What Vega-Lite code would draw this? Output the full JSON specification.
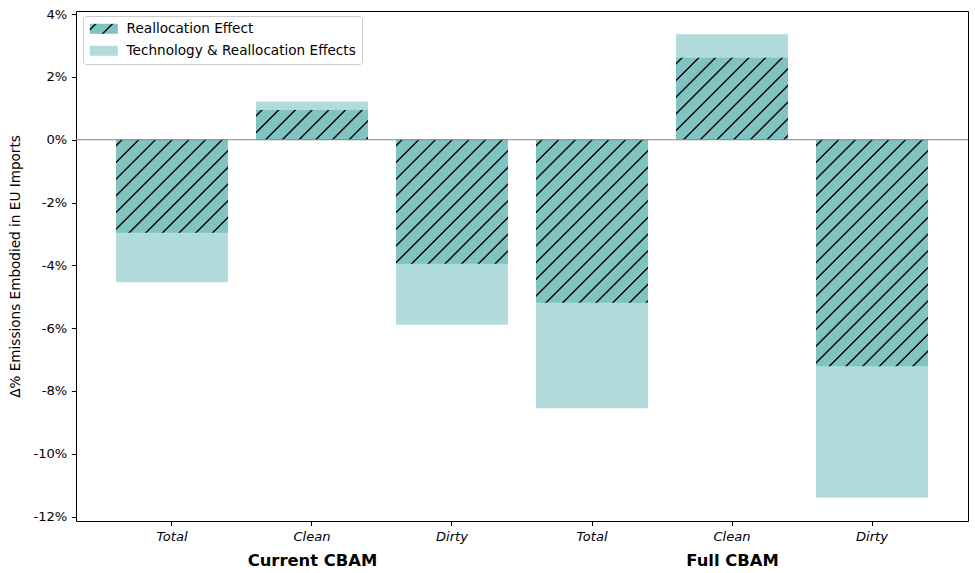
{
  "$schema": "https://vega.github.io/schema/vega-lite/v6.json",
  "width": 892,
  "height": 510,
  "autosize": "none",
  "padding": {"left": 76, "top": 11, "right": 7, "bottom": 52},
  "background": "white",
  "config": {"font": "DejaVu Sans", "view": {"stroke": "black", "strokeWidth": 1}},
  "params": [
    {"name": "hatch", "value": [
      {"offset": 0, "color": "#7fc4c1"},
      {"offset": 0.01257, "color": "#7fc4c1"}, {"offset": 0.01543, "color": "#141414"}, {"offset": 0.01886, "color": "#141414"}, {"offset": 0.02171, "color": "#7fc4c1"},
      {"offset": 0.06029, "color": "#7fc4c1"}, {"offset": 0.06314, "color": "#141414"}, {"offset": 0.06657, "color": "#141414"}, {"offset": 0.06943, "color": "#7fc4c1"},
      {"offset": 0.108, "color": "#7fc4c1"}, {"offset": 0.11086, "color": "#141414"}, {"offset": 0.11429, "color": "#141414"}, {"offset": 0.11714, "color": "#7fc4c1"},
      {"offset": 0.15571, "color": "#7fc4c1"}, {"offset": 0.15857, "color": "#141414"}, {"offset": 0.162, "color": "#141414"}, {"offset": 0.16486, "color": "#7fc4c1"},
      {"offset": 0.20343, "color": "#7fc4c1"}, {"offset": 0.20629, "color": "#141414"}, {"offset": 0.20971, "color": "#141414"}, {"offset": 0.21257, "color": "#7fc4c1"},
      {"offset": 0.25114, "color": "#7fc4c1"}, {"offset": 0.254, "color": "#141414"}, {"offset": 0.25743, "color": "#141414"}, {"offset": 0.26029, "color": "#7fc4c1"},
      {"offset": 0.29886, "color": "#7fc4c1"}, {"offset": 0.30171, "color": "#141414"}, {"offset": 0.30514, "color": "#141414"}, {"offset": 0.308, "color": "#7fc4c1"},
      {"offset": 0.34657, "color": "#7fc4c1"}, {"offset": 0.34943, "color": "#141414"}, {"offset": 0.35286, "color": "#141414"}, {"offset": 0.35571, "color": "#7fc4c1"},
      {"offset": 0.39429, "color": "#7fc4c1"}, {"offset": 0.39714, "color": "#141414"}, {"offset": 0.40057, "color": "#141414"}, {"offset": 0.40343, "color": "#7fc4c1"},
      {"offset": 0.442, "color": "#7fc4c1"}, {"offset": 0.44486, "color": "#141414"}, {"offset": 0.44829, "color": "#141414"}, {"offset": 0.45114, "color": "#7fc4c1"},
      {"offset": 0.48971, "color": "#7fc4c1"}, {"offset": 0.49257, "color": "#141414"}, {"offset": 0.496, "color": "#141414"}, {"offset": 0.49886, "color": "#7fc4c1"},
      {"offset": 0.53743, "color": "#7fc4c1"}, {"offset": 0.54029, "color": "#141414"}, {"offset": 0.54371, "color": "#141414"}, {"offset": 0.54657, "color": "#7fc4c1"},
      {"offset": 0.58514, "color": "#7fc4c1"}, {"offset": 0.588, "color": "#141414"}, {"offset": 0.59143, "color": "#141414"}, {"offset": 0.59429, "color": "#7fc4c1"},
      {"offset": 0.63286, "color": "#7fc4c1"}, {"offset": 0.63571, "color": "#141414"}, {"offset": 0.63914, "color": "#141414"}, {"offset": 0.642, "color": "#7fc4c1"},
      {"offset": 0.68057, "color": "#7fc4c1"}, {"offset": 0.68343, "color": "#141414"}, {"offset": 0.68686, "color": "#141414"}, {"offset": 0.68971, "color": "#7fc4c1"},
      {"offset": 0.72829, "color": "#7fc4c1"}, {"offset": 0.73114, "color": "#141414"}, {"offset": 0.73457, "color": "#141414"}, {"offset": 0.73743, "color": "#7fc4c1"},
      {"offset": 0.776, "color": "#7fc4c1"}, {"offset": 0.77886, "color": "#141414"}, {"offset": 0.78229, "color": "#141414"}, {"offset": 0.78514, "color": "#7fc4c1"},
      {"offset": 0.82371, "color": "#7fc4c1"}, {"offset": 0.82657, "color": "#141414"}, {"offset": 0.83, "color": "#141414"}, {"offset": 0.83286, "color": "#7fc4c1"},
      {"offset": 0.87143, "color": "#7fc4c1"}, {"offset": 0.87429, "color": "#141414"}, {"offset": 0.87771, "color": "#141414"}, {"offset": 0.88057, "color": "#7fc4c1"},
      {"offset": 0.91914, "color": "#7fc4c1"}, {"offset": 0.922, "color": "#141414"}, {"offset": 0.92543, "color": "#141414"}, {"offset": 0.92829, "color": "#7fc4c1"},
      {"offset": 0.96686, "color": "#7fc4c1"}, {"offset": 0.96971, "color": "#141414"}, {"offset": 0.97314, "color": "#141414"}, {"offset": 0.976, "color": "#7fc4c1"},
      {"offset": 1, "color": "#7fc4c1"}
    ]},
    {"name": "gxy", "value": {
      "Current CBAM|Total": [1.8497, 1.5359],
      "Current CBAM|Clean": [2.9184, 0.7765],
      "Current CBAM|Dirty": [1.404, 1.5544],
      "Full CBAM|Total": [1.0022, 1.4586],
      "Full CBAM|Clean": [2.0345, 1.4895],
      "Full CBAM|Dirty": [0.6144, 1.242]
    }}
  ],
  "data": {"values": [
    {"bar": "Current CBAM|Total", "scenario": "Current CBAM", "effect": "Technology & Reallocation Effects", "value": -4.54},
    {"bar": "Current CBAM|Clean", "scenario": "Current CBAM", "effect": "Technology & Reallocation Effects", "value": 1.22},
    {"bar": "Current CBAM|Dirty", "scenario": "Current CBAM", "effect": "Technology & Reallocation Effects", "value": -5.89},
    {"bar": "Full CBAM|Total", "scenario": "Full CBAM", "effect": "Technology & Reallocation Effects", "value": -8.55},
    {"bar": "Full CBAM|Clean", "scenario": "Full CBAM", "effect": "Technology & Reallocation Effects", "value": 3.36},
    {"bar": "Full CBAM|Dirty", "scenario": "Full CBAM", "effect": "Technology & Reallocation Effects", "value": -11.4},
    {"bar": "Current CBAM|Total", "scenario": "Current CBAM", "effect": "Reallocation Effect", "value": -2.96},
    {"bar": "Current CBAM|Clean", "scenario": "Current CBAM", "effect": "Reallocation Effect", "value": 0.95},
    {"bar": "Current CBAM|Dirty", "scenario": "Current CBAM", "effect": "Reallocation Effect", "value": -3.95},
    {"bar": "Full CBAM|Total", "scenario": "Full CBAM", "effect": "Reallocation Effect", "value": -5.19},
    {"bar": "Full CBAM|Clean", "scenario": "Full CBAM", "effect": "Reallocation Effect", "value": 2.61},
    {"bar": "Full CBAM|Dirty", "scenario": "Full CBAM", "effect": "Reallocation Effect", "value": -7.21}
  ]},
  "layer": [
    {
      "layer": [
        {
          "transform": [{"filter": "datum.effect === 'Technology & Reallocation Effects'"}],
          "mark": {"type": "bar"},
          "encoding": {
            "x": {
              "field": "bar", "type": "nominal", "sort": null,
              "scale": {"domain": ["Current CBAM|Total", "Current CBAM|Clean", "Current CBAM|Dirty", "Full CBAM|Total", "Full CBAM|Clean", "Full CBAM|Dirty"], "paddingInner": 0.2, "paddingOuter": 0.2857},
              "axis": {"title": null, "labelExpr": "split(datum.label, '|')[1]", "labelAngle": 0, "labelFontStyle": "italic", "labelFontSize": 13.1, "labelColor": "black", "tickColor": "black", "tickSize": 4.6, "tickWidth": 1, "labelPadding": 4.6, "domain": false, "grid": false}
            },
            "y": {
              "field": "value", "type": "quantitative",
              "scale": {"domain": [-12.14, 4.1], "nice": false, "zero": false},
              "axis": {"title": "Δ% Emissions Embodied in EU Imports", "titleFontSize": 13.6, "titleFontWeight": "normal", "titleColor": "black", "titlePadding": 10, "values": [-12, -10, -8, -6, -4, -2, 0, 2, 4], "labelExpr": "datum.value + '%'", "labelFontSize": 13.1, "labelColor": "black", "tickColor": "black", "tickSize": 4.6, "tickWidth": 1, "labelPadding": 4.6, "domain": false, "grid": false}
            },
            "color": {
              "field": "effect", "type": "nominal",
              "scale": {
                "domain": ["Reallocation Effect", "Technology & Reallocation Effects"],
                "range": [{"expr": "{gradient: 'linear', x1: 0, y1: 0, x2: 11.086, y2: 3.959, stops: hatch}"}, "#b2dcdc"]
              },
              "legend": {
                "title": null, "orient": "none", "legendX": 7, "legendY": 5, "padding": 6,
                "fillColor": "white", "strokeColor": "#cccccc", "cornerRadius": 3,
                "labelFontSize": 13.6, "labelColor": "black", "labelOffset": 24, "labelLimit": 0, "rowPadding": 7,
                "symbolType": "M-1.2,-1H4.4V1H-1.2Z", "symbolSize": 100, "symbolStrokeWidth": 0, "symbolOpacity": 1
              }
            }
          }
        },
        {
          "transform": [{"filter": "datum.effect === 'Reallocation Effect'"}],
          "mark": {"type": "bar"},
          "encoding": {
            "x": {"field": "bar", "type": "nominal", "sort": null},
            "y": {"field": "value", "type": "quantitative"},
            "fill": {"value": {"expr": "{gradient: 'linear', x1: 0, y1: 0, x2: gxy[datum.bar][0], y2: gxy[datum.bar][1], stops: hatch}"}}
          }
        },
        {
          "data": {"values": [{}]},
          "mark": {"type": "rule", "color": "#808080", "strokeWidth": 1},
          "encoding": {"y": {"datum": 0}}
        }
      ]
    },
    {
      "mark": {"type": "rule", "opacity": 0},
      "encoding": {
        "x": {
          "field": "scenario", "type": "nominal",
          "scale": {"type": "point", "domain": ["Current CBAM", "Full CBAM"], "padding": 0.5619},
          "axis": {"orient": "bottom", "title": null, "domain": false, "ticks": false, "grid": false, "labelAngle": 0, "labelPadding": 31, "labelFontSize": 16.4, "labelFontWeight": "bold", "labelColor": "black"}
        }
      }
    }
  ],
  "resolve": {"scale": {"x": "independent"}, "axis": {"x": "independent"}}
}
